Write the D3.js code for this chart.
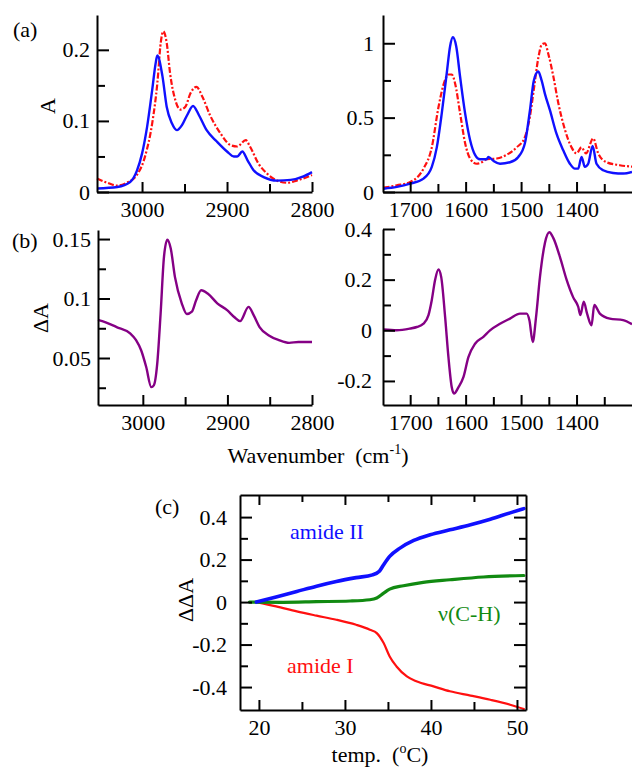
<!DOCTYPE html>
<html>
<head>
<meta charset="utf-8">
<script src="https://cdn.jsdelivr.net/npm/d3@7"></script>
<style>
  body { margin: 0; background: #fff; }
  svg text { font-family: "Liberation Serif", "Times New Roman", serif; fill: #000; }
</style>
</head>
<body>
<svg width="632" height="768"></svg>
<script>
// (a) C-H stretch region, absorbance [wavenumber, A]
var chBlue = [[3053,0.005],[3029,0.007],[3014,0.014],[3006,0.03],[3000,0.054],[2994,0.092],[2988,0.144],[2984,0.181],[2982,0.192],[2976,0.163],[2971,0.12],[2965,0.097],[2959,0.087],[2953,0.094],[2947,0.108],[2940,0.121],[2933,0.108],[2924,0.087],[2912,0.071],[2900,0.057],[2892,0.05],[2888,0.05],[2882,0.057],[2876,0.045],[2869,0.031],[2857,0.021],[2841,0.016],[2825,0.017],[2810,0.022],[2800,0.028]];
var chRed = [[3053,0.019],[3041,0.013],[3029,0.009],[3018,0.013],[3006,0.024],[2996,0.052],[2988,0.097],[2982,0.153],[2978,0.21],[2975,0.226],[2971,0.21],[2967,0.167],[2961,0.13],[2955,0.116],[2949,0.12],[2943,0.139],[2936,0.148],[2929,0.134],[2920,0.108],[2908,0.083],[2896,0.066],[2888,0.064],[2878,0.073],[2873,0.064],[2863,0.04],[2853,0.026],[2841,0.016],[2829,0.013],[2818,0.016],[2800,0.024]];

// (a) amide region
var amBlue = [[1748,0.022],[1724,0.034],[1700,0.056],[1676,0.09],[1661,0.169],[1652,0.30],[1643,0.53],[1634,0.80],[1628,0.98],[1623,1.04],[1617,0.98],[1610,0.775],[1601,0.53],[1592,0.35],[1583,0.25],[1574,0.22],[1562,0.22],[1559,0.236],[1550,0.21],[1538,0.19],[1520,0.20],[1505,0.236],[1493,0.33],[1484,0.55],[1477,0.75],[1469,0.81],[1463,0.75],[1457,0.66],[1448,0.55],[1436,0.39],[1424,0.28],[1412,0.19],[1403,0.157],[1397,0.157],[1391,0.236],[1385,0.169],[1379,0.19],[1371,0.31],[1364,0.19],[1352,0.146],[1334,0.128],[1316,0.124],[1300,0.135]];
var amRed = [[1748,0.029],[1724,0.045],[1700,0.067],[1676,0.157],[1661,0.30],[1649,0.57],[1640,0.72],[1631,0.79],[1625,0.79],[1619,0.73],[1610,0.53],[1601,0.33],[1592,0.225],[1580,0.19],[1571,0.20],[1562,0.22],[1544,0.225],[1526,0.25],[1508,0.30],[1493,0.37],[1484,0.51],[1477,0.69],[1469,0.90],[1463,0.99],[1457,1.0],[1451,0.93],[1442,0.78],[1433,0.60],[1421,0.42],[1409,0.30],[1400,0.26],[1391,0.30],[1383,0.26],[1370,0.36],[1361,0.26],[1346,0.20],[1322,0.18],[1300,0.17]];

// (b) difference spectra
var chDiff = [[3053,0.082],[3048,0.081],[3031,0.076],[3015,0.0707],[3008,0.065],[3002,0.0565],[2996,0.0424],[2990,0.0255],[2987,0.027],[2983,0.045],[2979,0.087],[2975,0.135],[2971,0.1494],[2967,0.142],[2962,0.118],[2954,0.096],[2948,0.087],[2942,0.089],[2937,0.0986],[2931,0.107],[2923,0.104],[2912,0.096],[2900,0.090],[2892,0.0845],[2885,0.081],[2875,0.093],[2869,0.086],[2862,0.076],[2851,0.069],[2839,0.065],[2827,0.0627],[2816,0.0635],[2800,0.0635]];
var amDiff = [[1748,0.003],[1724,0],[1700,0.007],[1688,0.013],[1676,0.026],[1667,0.06],[1661,0.12],[1655,0.20],[1649,0.24],[1644,0.21],[1637,0.053],[1631,-0.106],[1625,-0.225],[1621,-0.25],[1613,-0.225],[1604,-0.185],[1595,-0.106],[1583,-0.053],[1568,-0.026],[1556,0],[1538,0.026],[1520,0.046],[1502,0.066],[1490,0.066],[1485,0.04],[1479,-0.046],[1473,0.053],[1466,0.21],[1457,0.345],[1449,0.387],[1442,0.365],[1430,0.29],[1418,0.2],[1406,0.13],[1397,0.093],[1393,0.06],[1387,0.113],[1381,0.066],[1373,0.02],[1368,0.1],[1358,0.066],[1340,0.046],[1316,0.04],[1300,0.024]];

// (c) temperature dependence [temp, ddA]
var amideII = [[19.7,0],[22,0.024],[24.4,0.05],[26.7,0.075],[29,0.097],[31.3,0.115],[33.2,0.128],[34,0.145],[34.5,0.176],[35.2,0.215],[36.4,0.254],[38,0.29],[39.9,0.317],[42.2,0.34],[44.6,0.364],[46.9,0.39],[49.2,0.42],[50.8,0.44]];
var nuCH = [[18.9,0],[22.8,-0.001],[26.7,0.002],[30.6,0.005],[32.9,0.011],[33.7,0.019],[34.5,0.042],[35.2,0.061],[36.8,0.077],[39.1,0.093],[42.2,0.105],[46.1,0.118],[50.8,0.125]];
var amideI = [[19.7,0],[22,-0.02],[24.4,-0.044],[26.7,-0.064],[29,-0.083],[31.3,-0.107],[32.9,-0.13],[33.7,-0.146],[34.5,-0.193],[35.2,-0.256],[36,-0.303],[37.2,-0.35],[38.3,-0.373],[40.3,-0.397],[42.2,-0.42],[44.6,-0.44],[46.9,-0.46],[49.2,-0.483],[50.8,-0.503]];

var chTicks = [3000, 2900, 2800], chMinor = [2950, 2850];
var amTicks = [1700, 1600, 1500, 1400], amMinor = [1650, 1550, 1450, 1350];
var tTicks = [20, 30, 40, 50], tMinor = [25, 35, 45];

var svg = d3.select("svg");
var FS = 22;
var blue = "#1010ff", red = "#ff1010", purple = "#850085", green = "#118a11";

function yAxisInward(g, y, major, minor, pad, labels) {
  g.call(d3.axisLeft(y).tickValues(minor).tickSize(-8).tickSizeOuter(0).tickFormat(""));
  var a = g.append("g").call(d3.axisLeft(y).tickValues(major).tickSize(-12).tickSizeOuter(0).tickPadding(pad)
      .tickFormat(labels ? function(d) { return String(d); } : ""));
  a.select(".domain").remove();
}
function xAxisInward(g, x, major, minor, labels) {
  g.call(d3.axisBottom(x).tickValues(minor).tickSize(-8).tickSizeOuter(0).tickFormat(""));
  var a = g.append("g").call(d3.axisBottom(x).tickValues(major).tickSize(-10).tickSizeOuter(0).tickPadding(9)
      .tickFormat(labels ? function(d) { return String(d); } : ""));
  a.select(".domain").remove();
}

function spectrum(o) {
  var x = d3.scaleLinear().domain(o.xd).range(o.xr),
      y = d3.scaleLinear().domain(o.yd).range(o.yr);
  var line = d3.line().curve(d3.curveMonotoneX)
      .x(function(d) { return x(d[0]); })
      .y(function(d) { return y(d[1]); });

  o.series.forEach(function(s) {
    svg.append("path")
        .attr("d", line(s.data))
        .attr("fill", "none")
        .attr("stroke", s.color)
        .attr("stroke-width", s.width)
        .attr("stroke-dasharray", s.dash || null)
        .attr("stroke-linejoin", "round");
  });

  var gx = svg.append("g").attr("transform", "translate(0," + o.yr[0] + ")");
  xAxisInward(gx, x, o.xt, o.xm, true);
  var gy = svg.append("g").attr("transform", "translate(" + o.xr[0] + ",0)");
  yAxisInward(gy, y, o.yt, o.ym, o.pad, true);
}

spectrum({ xd: [3053, 2800], xr: [97, 312], yd: [0, 0.249], yr: [192, 15],
  xt: chTicks, xm: chMinor, yt: [0, 0.1, 0.2], ym: [0.05, 0.15], pad: 7,
  series: [{ data: chRed, color: red, width: 2.2, dash: "6,2,2,2" }, { data: chBlue, color: blue, width: 2.4 }] });
spectrum({ xd: [1749, 1300], xr: [383, 632], yd: [0, 1.19], yr: [192, 15],
  xt: amTicks, xm: amMinor, yt: [0, 0.5, 1], ym: [0.25, 0.75], pad: 9,
  series: [{ data: amRed, color: red, width: 2.2, dash: "6,2,2,2" }, { data: amBlue, color: blue, width: 2.4 }] });
spectrum({ xd: [3053, 2800], xr: [98, 312], yd: [0.0105, 0.1576], yr: [405, 230],
  xt: chTicks, xm: chMinor, yt: [0.05, 0.1, 0.15], ym: [0.025, 0.075, 0.125], pad: 7,
  series: [{ data: chDiff, color: purple, width: 2.4 }] });
spectrum({ xd: [1749, 1300], xr: [383, 632], yd: [-0.295, 0.4], yr: [405, 229],
  xt: amTicks, xm: amMinor, yt: [-0.2, 0, 0.2, 0.4], ym: [-0.1, 0.1, 0.3], pad: 11,
  series: [{ data: amDiff, color: purple, width: 2.4 }] });

// panel (c)
var cx = d3.scaleLinear().domain([17.8, 51.05]).range([240, 526]),
    cy = d3.scaleLinear().domain([-0.508, 0.504]).range([710, 495]);
var cline = d3.line().curve(d3.curveMonotoneX)
    .x(function(d) { return cx(d[0]); })
    .y(function(d) { return cy(d[1]); });
[[amideI, red, 2.2], [nuCH, green, 3.2], [amideII, blue, 3.6]].forEach(function(s) {
  svg.append("path").attr("d", cline(s[0])).attr("fill", "none")
      .attr("stroke", s[1]).attr("stroke-width", s[2]).attr("stroke-linecap", "round");
});
var cyT = [-0.4, -0.2, 0, 0.2, 0.4], cyM = [-0.3, -0.1, 0.1, 0.3];
xAxisInward(svg.append("g").attr("transform", "translate(0,710)"), cx, tTicks, tMinor, true);
yAxisInward(svg.append("g").attr("transform", "translate(240,0)"), cy, cyT, cyM, 13, true);
// top and right frame with inward ticks
var gt = svg.append("g").attr("transform", "translate(0,495)");
gt.call(d3.axisTop(cx).tickValues(tMinor).tickSize(-7).tickSizeOuter(0).tickFormat(""));
gt.append("g").call(d3.axisTop(cx).tickValues(tTicks).tickSize(-10).tickSizeOuter(0).tickFormat(""))
  .select(".domain").remove();
var gr = svg.append("g").attr("transform", "translate(526,0)");
gr.call(d3.axisRight(cy).tickValues(cyM).tickSize(-7).tickSizeOuter(0).tickFormat(""));
gr.append("g").call(d3.axisRight(cy).tickValues(cyT).tickSize(-12).tickSizeOuter(0).tickFormat(""))
  .select(".domain").remove();

// axis styling
svg.selectAll(".domain, .tick line").attr("stroke", "#000").attr("stroke-width", 2);
svg.selectAll(".tick text").attr("font-size", FS).attr("fill", "#000")
    .style("font-family", "'Liberation Serif', serif");

// labels
function label(txt, x, y, opts) {
  var t = svg.append("text").attr("x", x).attr("y", y).attr("font-size", opts && opts.size || FS)
      .attr("text-anchor", opts && opts.anchor || "start").text(txt);
  if (opts && opts.color) t.attr("fill", opts.color).style("fill", opts.color);
  if (opts && opts.rotate) t.attr("transform", "rotate(-90," + x + "," + y + ")");
  return t;
}
label("(a)", 13, 37);
label("(b)", 12, 248);
label("(c)", 155, 514);
label("A", 47, 106, { rotate: true, anchor: "middle" }).attr("dy", "0.35em");
label("\u0394A", 40, 318, { rotate: true, anchor: "middle" }).attr("dy", "0.35em");
label("\u0394\u0394A", 185, 600, { rotate: true, anchor: "middle" }).attr("dy", "0.35em");

var wl = svg.append("text").attr("x", 318).attr("y", 463).attr("font-size", FS).attr("text-anchor", "middle");
wl.append("tspan").text("Wavenumber\u00a0\u00a0(cm");
wl.append("tspan").attr("font-size", 14).attr("dy", -9).text("-1");
wl.append("tspan").attr("dy", 9).text(")");

var tl = svg.append("text").attr("x", 380).attr("y", 762).attr("font-size", FS).attr("text-anchor", "middle");
tl.append("tspan").text("temp.\u00a0\u00a0(");
tl.append("tspan").attr("font-size", 14).attr("dy", -9).text("o");
tl.append("tspan").attr("dy", 9).text("C)");

label("amide II", 290, 539, { color: blue });
label("\u03bd(C-H)", 438, 621, { color: green });
label("amide I", 287, 673, { color: red });
</script>
</body>
</html>
